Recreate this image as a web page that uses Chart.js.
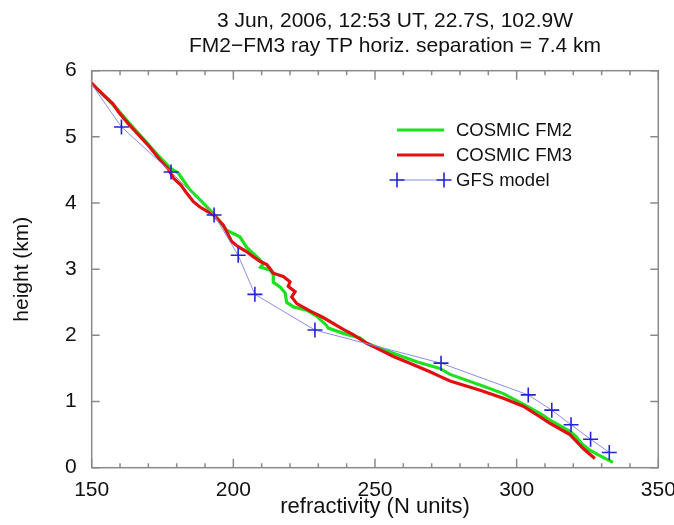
<!DOCTYPE html>
<html>
<head>
<meta charset="utf-8">
<script src="https://cdn.jsdelivr.net/npm/chart.js@4"></script>
<style>
  html, body { margin: 0; padding: 0; background: #ffffff; }
  #wrap { width: 674px; height: 525px; }
</style>
</head>
<body>
<div id="wrap"><canvas id="c" width="674" height="525"></canvas></div>
<script>
// ---- data ----
const titleLines = ['3 Jun, 2006, 12:53 UT, 22.7S, 102.9W', 'FM2\u2212FM3 ray TP horiz. separation = 7.4 km'];
const xTitle = 'refractivity (N units)';
const yTitle = 'height (km)';
const seriesNames = ['COSMIC FM2', 'COSMIC FM3', 'GFS model'];

const fm2N = [149.8,154.5,159.0,163.0,168.0,173.0,178.0,180.6,184.7,189.4,192.5,194.5,197.6,202.3,204.7,207.5,209.4,210.5,209.6,212.9,214.1,214.1,216.5,218.3,218.8,221.2,225.9,229.4,232.9,233.5,238.8,244.7,247.1,255.3,264.7,272.9,276.5,287.1,295.3,302.3,308.2,311.8,318.8,321.0,323.0,326.0,329.0,334.0];
const fm2H = [5.82,5.62,5.42,5.22,4.98,4.74,4.52,4.45,4.20,4.00,3.86,3.77,3.59,3.49,3.33,3.22,3.14,3.08,3.03,2.99,2.92,2.80,2.73,2.64,2.50,2.43,2.38,2.29,2.15,2.11,2.03,1.96,1.88,1.75,1.60,1.50,1.41,1.25,1.12,0.96,0.82,0.72,0.55,0.47,0.36,0.26,0.19,0.08];

const fm3N = [149.8,152.0,154.7,157.5,159.4,162.9,165.0,167.6,170.0,172.3,174.1,177.0,178.8,181.5,183.5,185.9,188.2,190.5,192.9,196.4,198.2,199.4,201.7,204.5,207.0,209.4,211.8,212.9,214.1,217.6,220.0,219.4,221.8,220.6,222.4,227.0,231.7,238.8,242.3,247.1,251.8,256.5,262.3,269.4,272.9,276.5,287.1,295.3,302.3,307.1,311.8,318.8,320.6,323.5,327.6];
const fm3H = [5.82,5.72,5.61,5.50,5.38,5.20,5.10,4.98,4.87,4.75,4.65,4.52,4.38,4.27,4.15,4.02,3.94,3.88,3.82,3.67,3.52,3.42,3.34,3.27,3.19,3.12,3.07,3.01,2.94,2.89,2.81,2.74,2.66,2.58,2.48,2.37,2.27,2.09,2.01,1.88,1.78,1.68,1.58,1.45,1.38,1.31,1.17,1.05,0.93,0.80,0.67,0.50,0.42,0.29,0.14];

const gfsN = [146.0,160.5,178.0,193.2,201.7,207.6,228.8,273.3,304.1,312.4,319.2,326.1,332.7];
const gfsH = [6.04,5.15,4.47,3.82,3.21,2.62,2.08,1.58,1.10,0.87,0.65,0.43,0.23];

const xMin = 150, xMax = 350, xMajor = 50, xMinor = 10;
const yMin = 0, yMax = 6, yMajor = 1;

// ---- build ----
const pts = (xs, ys) => xs.map((x, i) => ({x: x, y: ys[i]}));
const FONT = "'Liberation Sans', Arial, Helvetica, sans-serif";

const frameTicks = {
  id: 'frameTicks',
  afterDatasetsDraw(chart) {
    const {ctx, chartArea: a, scales: {x, y}} = chart;
    ctx.save();
    ctx.strokeStyle = '#8a8a8a';
    ctx.lineWidth = 1.5;
    ctx.strokeRect(a.left, a.top, a.right - a.left, a.bottom - a.top);
    ctx.beginPath();
    for (let v = xMin; v <= xMax + 1e-9; v += xMinor) {
      const px = x.getPixelForValue(v);
      const len = (Math.abs(v - xMin) % xMajor < 1e-6) ? 9 : 4.5;
      ctx.moveTo(px, a.bottom); ctx.lineTo(px, a.bottom - len);
      ctx.moveTo(px, a.top); ctx.lineTo(px, a.top + len);
    }
    for (let v = yMin; v <= yMax + 1e-9; v += yMajor) {
      const py = y.getPixelForValue(v);
      ctx.moveTo(a.left, py); ctx.lineTo(a.left + 8, py);
      ctx.moveTo(a.right, py); ctx.lineTo(a.right - 8, py);
    }
    ctx.stroke();
    ctx.restore();
  }
};

const titleText = {
  id: 'titleText',
  afterDraw(chart) {
    const {ctx} = chart;
    ctx.save();
    ctx.font = '21px ' + FONT;
    ctx.fillStyle = '#111';
    ctx.textAlign = 'center';
    ctx.textBaseline = 'middle';
    ctx.fillText(titleLines[0], 395, 21);
    ctx.fillText(titleLines[1], 395, 46);
    ctx.restore();
  }
};

const legendBox = {
  id: 'legendBox',
  afterDraw(chart) {
    const {ctx} = chart;
    const x0 = 397, x1 = 444, tx = 456;
    const rows = [130, 155, 180];
    ctx.save();
    ctx.font = '18.5px ' + FONT;
    ctx.textBaseline = 'middle';
    ctx.fillStyle = '#111';
    chart.data.datasets.forEach((ds, i) => {
      const yy = rows[i];
      ctx.beginPath();
      ctx.strokeStyle = ds.borderColor;
      ctx.lineWidth = ds.borderWidth;
      ctx.moveTo(x0, yy); ctx.lineTo(x1, yy);
      ctx.stroke();
      if (ds.pointStyle === 'cross') {
        const r = ds.pointRadius;
        ctx.beginPath();
        ctx.strokeStyle = ds.pointBorderColor;
        ctx.lineWidth = ds.pointBorderWidth;
        [x0, x1].forEach(cx => {
          ctx.moveTo(cx - r, yy); ctx.lineTo(cx + r, yy);
          ctx.moveTo(cx, yy - r); ctx.lineTo(cx, yy + r);
        });
        ctx.stroke();
      }
      ctx.fillText(ds.label, tx, yy + 1);
    });
    ctx.restore();
  }
};

new Chart(document.getElementById('c'), {
  type: 'scatter',
  data: {
    datasets: [
      { label: seriesNames[0], data: pts(fm2N, fm2H), showLine: true, borderColor: '#1fe01f', borderWidth: 3.2,
        pointRadius: 0, order: 2, tension: 0 },
      { label: seriesNames[1], data: pts(fm3N, fm3H), showLine: true, borderColor: '#e01010', borderWidth: 3.2,
        pointRadius: 0, order: 1, tension: 0 },
      { label: seriesNames[2], data: pts(gfsN, gfsH), showLine: true, borderColor: '#8c8ce6', borderWidth: 1,
        pointStyle: 'cross', pointRadius: 7.5, pointBorderColor: '#2323d6', pointBorderWidth: 1.6,
        pointBackgroundColor: '#2323d6', order: 0, tension: 0 }
    ]
  },
  options: {
    responsive: false,
    animation: false,
    devicePixelRatio: 1,
    layout: { padding: { top: 70.7, right: 15.7, left: 0, bottom: 0 } },
    plugins: {
      legend: { display: false },
      tooltip: { enabled: false },
      title: { display: false }
    },
    scales: {
      x: {
        type: 'linear', min: xMin, max: xMax,
        grid: { display: false, drawTicks: false },
        border: { display: false },
        ticks: { stepSize: xMajor, color: '#111', padding: 10, maxRotation: 0,
                 font: { family: FONT, size: 21 } },
        title: { display: true, text: xTitle, color: '#111', font: { family: FONT, size: 22 },
                 padding: { top: 0, bottom: 5 } },
        afterFit(s) { s.height = 525 - 467.7; s.paddingLeft = 0; s.paddingRight = 0; }
      },
      y: {
        type: 'linear', min: yMin, max: yMax,
        grid: { display: false, drawTicks: false },
        border: { display: false },
        ticks: { stepSize: yMajor, color: '#111', padding: 15,
                 font: { family: FONT, size: 21 } },
        title: { display: true, text: yTitle, color: '#111', font: { family: FONT, size: 21 },
                 padding: { top: 10, bottom: 0 } },
        afterFit(s) { s.width = 91.7; s.paddingTop = 0; s.paddingBottom = 0; }
      }
    }
  },
  plugins: [frameTicks, legendBox, titleText]
});
</script>
</body>
</html>
